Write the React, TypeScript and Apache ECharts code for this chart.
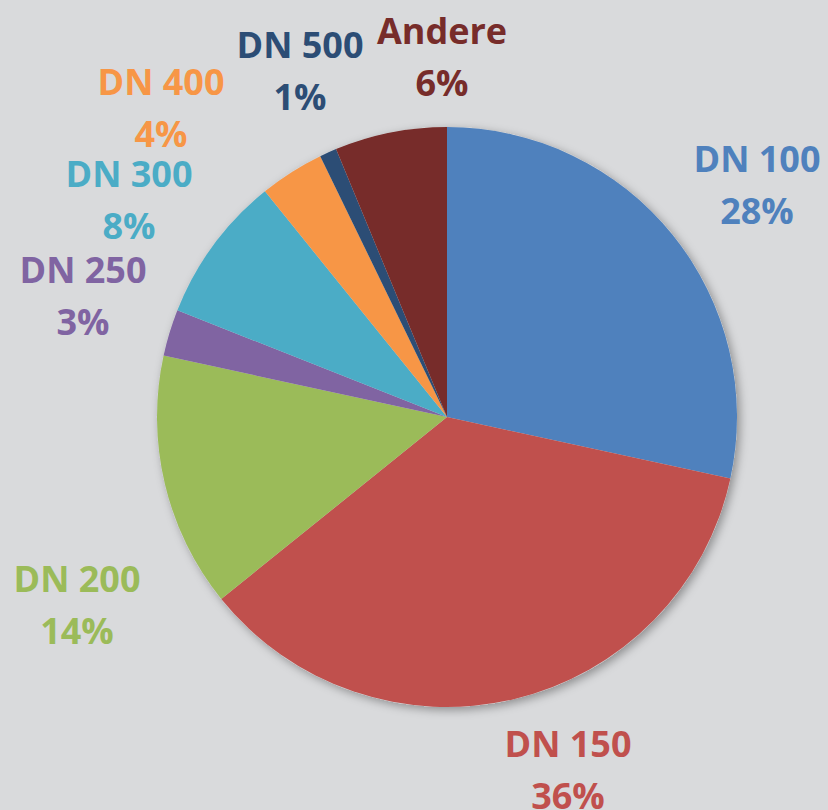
import React, { useEffect, useRef } from "react";
import * as echarts from "echarts";

const categories = ["DN 100", "DN 150", "DN 200", "DN 250", "DN 300", "DN 400", "DN 500", "Andere"];
const shares = [28.4, 35.8, 14.2, 2.6, 8.2, 3.6, 0.95, 6.25];
const colors = ["#4f81bd", "#c0504d", "#9bbb59", "#8064a2", "#4bacc6", "#f79646", "#2c4d75", "#772c2a"];

// label block centres (layout only)
const labelPos: [number, number][] = [
  [757, 184],
  [568, 769],
  [77, 604],
  [83, 295],
  [129, 199],
  [161, 107],
  [300, 70],
  [442, 56],
];

const CENTER: [number, number] = [447, 417];
const RADIUS = 290;
const BG = "#d9dadc";

export default function App() {
  const ref = useRef<HTMLDivElement>(null);
  useEffect(() => {
    if (!ref.current) return;
    const chart = echarts.init(ref.current, undefined, { renderer: "svg" });
    chart.setOption({
      animation: false,
      backgroundColor: BG,
      series: [
        {
          type: "pie",
          silent: true,
          center: CENTER,
          radius: RADIUS,
          z: 1,
          label: { show: false },
          labelLine: { show: false },
          itemStyle: {
            color: BG,
            shadowBlur: 10,
            shadowOffsetX: 3,
            shadowOffsetY: 3,
            shadowColor: "rgba(0,0,0,0.35)",
          },
          data: [{ value: 1, name: "" }],
        },
        {
          type: "pie",
          z: 2,
          center: CENTER,
          radius: RADIUS,
          startAngle: 90,
          clockwise: true,
          avoidLabelOverlap: false,
          percentPrecision: 0,
          itemStyle: { borderWidth: 0 },
          emphasis: { disabled: true },
          label: {
            show: true,
            position: "outside",
            formatter: "{b}\n{d}%",
            fontFamily: "Open Sans",
            fontWeight: "bold",
            fontSize: 36,
            lineHeight: 52,
          },
          labelLine: { show: false },
          labelLayout: (params: any) => {
            const p = labelPos[params.dataIndex];
            return { x: p[0], y: p[1], align: "center", verticalAlign: "middle" };
          },
          data: categories.map((name, i) => ({
            name,
            value: shares[i],
            itemStyle: { color: colors[i] },
            label: { color: colors[i] },
          })),
        },
      ],
    });
    return () => chart.dispose();
  }, []);
  return (
    <div
      ref={ref}
      style={{ position: "fixed", left: 0, top: 0, width: 828, height: 810 }}
    />
  );
}
